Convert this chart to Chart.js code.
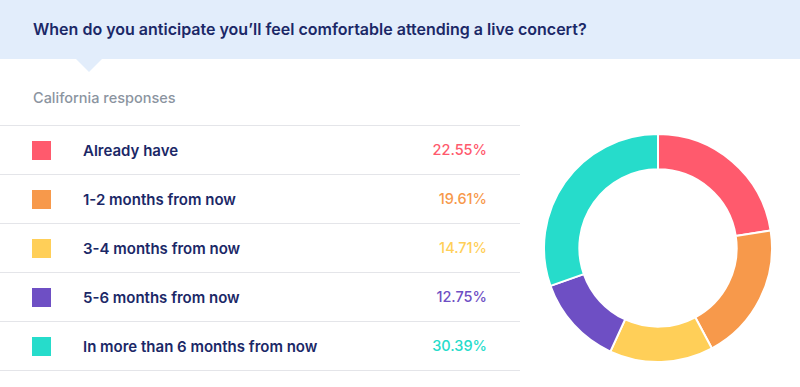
<!DOCTYPE html>
<html>
<head>
<meta charset="utf-8">
<script src="https://cdn.jsdelivr.net/npm/chart.js@4"></script>
<style>
  html, body { margin: 0; padding: 0; background: #fff; }
  body { width: 800px; height: 387px; position: relative; overflow: hidden; font-family: Inter, "Noto Sans", sans-serif; }
  #header { position: absolute; left: 0; top: 0; width: 800px; height: 59px; background: #e2edfb; }
  #header h1 { margin: 0; position: absolute; left: 33px; top: 19px; font-size: 16px; font-weight: 600; color: #1b2867; }
  #pointer { position: absolute; left: 76px; top: 59px; width: 0; height: 0; border-left: 13px solid transparent; border-right: 13px solid transparent; border-top: 13px solid #e2edfb; }
  #subtitle { position: absolute; left: 33px; top: 89px; font-size: 14.5px; font-weight: 500; color: #8b949f; }
  #rows { position: absolute; left: 0; top: 125px; width: 520px; border-top: 1px solid #e4e5e9; }
  .row { position: relative; height: 48px; border-bottom: 1px solid #e4e5e9; }
  .sw { position: absolute; left: 32px; top: 15px; width: 19px; height: 19px; }
  .lab { position: absolute; left: 83px; top: 15px; font-size: 15px; font-weight: 600; color: #1b2867; }
  .pct { position: absolute; right: 33px; top: 15px; font-size: 14.5px; font-weight: 500; }
  #wrap { position: absolute; left: 541px; top: 131px; width: 234px; height: 234px; }
</style>
</head>
<body>
<div id="header"><h1 id="title"></h1></div>
<div id="pointer"></div>
<div id="subtitle"></div>
<div id="rows"></div>
<div id="wrap"><canvas id="canvas"></canvas></div>
<script>
const chartTitle = "When do you anticipate you\u2019ll feel comfortable attending a live concert?";
const subtitle = "California responses";
const categories = ["Already have", "1-2 months from now", "3-4 months from now", "5-6 months from now", "In more than 6 months from now"];
const shares = [22.55, 19.61, 14.71, 12.75, 30.39];
const colors = ["#ff5a6d", "#f7994b", "#ffcf58", "#6e4fc4", "#26dccb"];

document.getElementById("title").textContent = chartTitle;
document.getElementById("subtitle").textContent = subtitle;

// table rows on the left
const rows = document.getElementById("rows");
categories.forEach((c, i) => {
  const row = document.createElement("div");
  row.className = "row";
  row.innerHTML = '<div class="sw" style="background:' + colors[i] + '"></div>' +
    '<div class="lab">' + c + '</div>' +
    '<div class="pct" style="color:' + colors[i] + '">' + shares[i].toFixed(2) + '%</div>';
  rows.appendChild(row);
});

// donut
const chart = new Chart(document.getElementById("canvas").getContext("2d"), {
  type: 'doughnut',
  data: {
    labels: categories,
    datasets: [{
      data: shares,
      backgroundColor: colors,
      borderColor: "#ffffff",
      borderWidth: 2
    }]
  },
  options: {
    responsive: true,
    maintainAspectRatio: false,
    animation: false,
    cutout: '69%',
    layout: { padding: 2 },
    plugins: {
      legend: { display: false },
      tooltip: { enabled: false }
    }
  }
});
</script>
</body>
</html>
